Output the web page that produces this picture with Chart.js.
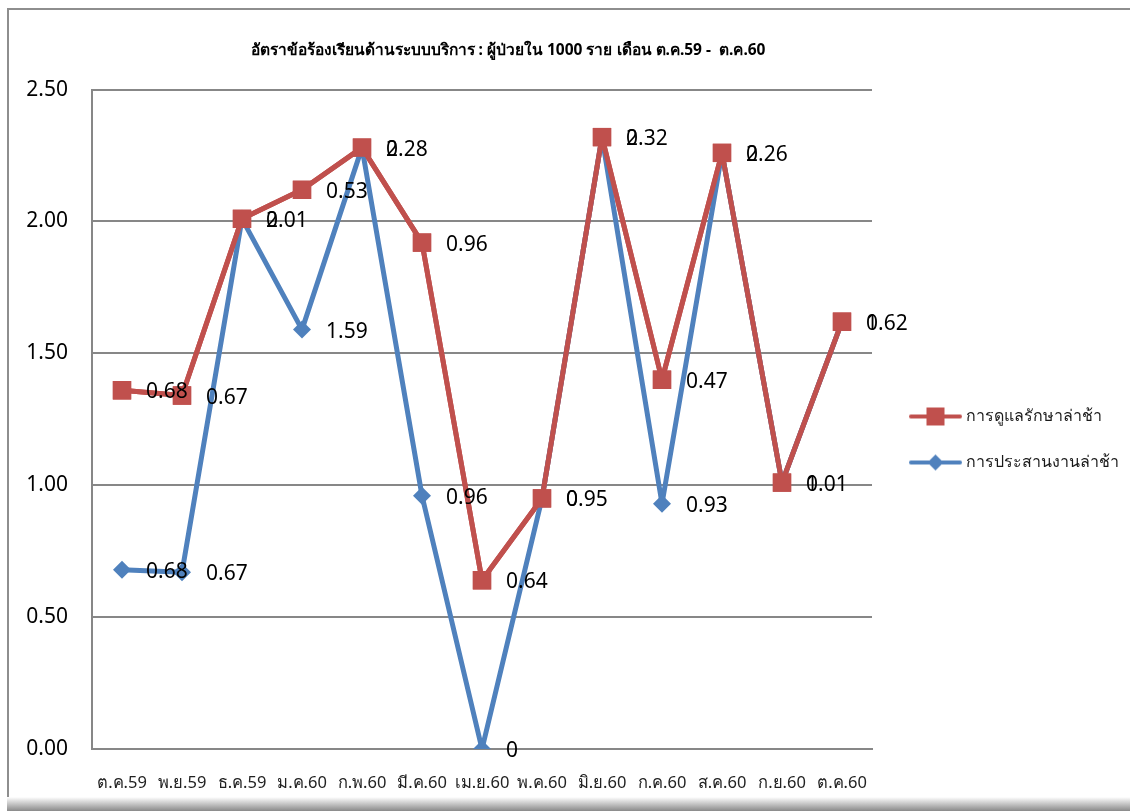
<!DOCTYPE html>
<html>
<head>
<meta charset="utf-8">
<script src="https://cdn.jsdelivr.net/npm/chart.js@4/dist/chart.umd.min.js"></script>
<style>
  body { margin: 0; background: #fff; }
  #frame { position: absolute; left: 7px; top: 8px; width: 1140px; height: 789px;
           border: 2px solid #8e8e8e; border-bottom: none; border-right: none; }
  #shadow { position: absolute; left: 7px; top: 797px; width: 1130px; height: 14px;
            background: linear-gradient(#ffffff, #8a8a8a); }
  #wrap { position: absolute; left: 0; top: 0; width: 1130px; height: 811px; }
</style>
</head>
<body>
<div id="frame"></div>
<div id="shadow"></div>
<div id="wrap"><canvas id="complaintChart"></canvas></div>
<script>
const months = ['ต.ค.59', 'พ.ย.59', 'ธ.ค.59', 'ม.ค.60', 'ก.พ.60', 'มี.ค.60', 'เม.ย.60',
                'พ.ค.60', 'มิ.ย.60', 'ก.ค.60', 'ส.ค.60', 'ก.ย.60', 'ต.ค.60'];
// stacked: the blue series sits at the bottom, red is added on top of it
const coordinationLate = [0.68, 0.67, 2.01, 1.59, 2.28, 0.96, 0, 0.95, 2.32, 0.93, 2.26, 1.01, 1.62];
const careLate = [0.68, 0.67, 0, 0.53, 0, 0.96, 0.64, 0, 0, 0.47, 0, 0, 0];
const yTicks = [0, 0.5, 1, 1.5, 2, 2.5];

const RED = '#C0504D';
const BLUE = '#4F81BD';

document.addEventListener("DOMContentLoaded", () => {
    const ctx = document.getElementById('complaintChart').getContext('2d');

    // small line + marker picture for the legend, like Excel draws it
    const legendIcon = (color, diamond) => {
        const c = document.createElement('canvas');
        c.width = 64; c.height = 22;
        const g = c.getContext('2d');
        g.strokeStyle = color; g.fillStyle = color;
        g.lineWidth = 4; g.lineCap = 'round';
        g.beginPath(); g.moveTo(13, 11); g.lineTo(62, 11); g.stroke();
        if (diamond) {
            g.beginPath();
            g.moveTo(37.5, 3); g.lineTo(45.5, 11); g.lineTo(37.5, 19); g.lineTo(29.5, 11);
            g.closePath(); g.fill();
        } else {
            g.fillRect(28.5, 2, 18, 18);
        }
        return c;
    };
    const icons = [legendIcon(BLUE, true), legendIcon(RED, false)];

    const layoutTweaks = {
        id: 'layoutTweaks',
        beforeLayout(chart) {
            const legend = chart.legend;
            if (legend && !legend._fixedWidth) {
                const fit = legend.fit;
                legend.fit = function () { fit.call(this); if (this.width) this.width = 258; };
                legend._fixedWidth = true;
            }
        },
        afterLayout(chart) {
            // Excel placed title and legend a bit off the plain centre
            chart.titleBlock.left += 26;
            chart.titleBlock.right += 26;
            chart.legend.top += 34;
            chart.legend.bottom += 34;
        }
    };

    const pointLabels = {
        id: 'pointLabels',
        afterDatasetsDraw(chart) {
            // red series lies over the blue one in the original
            chart.getDatasetMeta(1).controller.draw();
            const c = chart.ctx;
            c.save();
            c.font = '21px "Noto Sans", sans-serif';
            c.fillStyle = '#000';
            c.textBaseline = 'middle';
            c.textAlign = 'left';
            chart.data.datasets.forEach((ds, i) => {
                chart.getDatasetMeta(i).data.forEach((pt, j) => {
                    c.fillText(String(ds.data[j]), pt.x + 24, pt.y + 2);
                });
            });
            c.restore();
        }
    };

    new Chart(ctx, {
        type: 'line',
        data: {
            labels: months,
            datasets: [{
                label: 'การประสานงานล่าช้า',
                data: coordinationLate,
                borderColor: BLUE,
                backgroundColor: BLUE,
                borderWidth: 5,
                borderJoinStyle: 'round',
                borderCapStyle: 'round',
                pointStyle: 'rectRot',
                pointRadius: 9,
                pointBorderWidth: 0,
                fill: false,
                tension: 0
            }, {
                label: 'การดูแลรักษาล่าช้า',
                data: careLate,
                borderColor: RED,
                backgroundColor: RED,
                borderWidth: 5,
                borderJoinStyle: 'round',
                borderCapStyle: 'round',
                pointStyle: 'rect',
                pointRadius: 13,
                pointBorderWidth: 0,
                fill: false,
                tension: 0
            }]
        },
        options: {
            responsive: true,
            maintainAspectRatio: false,
            animation: false,
            layout: { padding: 0 },
            plugins: {
                title: {
                    display: true,
                    fullSize: false,
                    text: 'อัตราข้อร้องเรียนด้านระบบบริการ : ผู้ป่วยใน 1000 ราย เดือน ต.ค.59 -  ต.ค.60',
                    color: '#000',
                    font: { family: 'Tahoma, "Noto Sans", sans-serif', size: 15.5, weight: 'bold' },
                    padding: { top: 41, bottom: 30 }
                },
                legend: {
                    display: true,
                    position: 'right',
                    labels: {
                        usePointStyle: true,
                        pointStyleWidth: 56,
                        padding: 30,
                        color: '#1a1a1a',
                        font: { family: 'Tahoma, "Noto Sans", sans-serif', size: 16 },
                        generateLabels: (chart) => [1, 0].map(i => ({
                            text: chart.data.datasets[i].label,
                            pointStyle: icons[i],
                            fillStyle: chart.data.datasets[i].borderColor,
                            strokeStyle: chart.data.datasets[i].borderColor,
                            lineWidth: 0,
                            fontColor: '#1a1a1a',
                            hidden: false,
                            datasetIndex: i
                        }))
                    }
                },
                tooltip: { enabled: false }
            },
            scales: {
                x: {
                    offset: true,
                    grid: { display: false, drawTicks: false },
                    border: { display: true, color: '#878787', width: 2 },
                    ticks: {
                        color: '#222',
                        padding: 24,
                        maxRotation: 0,
                        autoSkip: false,
                        font: { family: 'Tahoma, "Noto Sans", sans-serif', size: 16.5 }
                    },
                    afterFit: (scale) => { scale.height = 62; }
                },
                y: {
                    stacked: true,
                    min: 0,
                    max: 2.5,
                    grid: { color: '#878787', lineWidth: 2, drawTicks: false },
                    border: { display: true, color: '#878787', width: 2 },
                    afterBuildTicks: (scale) => { scale.ticks = yTicks.map(v => ({ value: v })); },
                    ticks: {
                        color: '#000',
                        padding: 24,
                        font: { family: '"Noto Sans", sans-serif', size: 21 },
                        callback: (value) => Number(value).toFixed(2)
                    },
                    afterFit: (scale) => { scale.width = 92; }
                }
            }
        },
        plugins: [layoutTweaks, pointLabels]
    });
});
</script>
</body>
</html>
